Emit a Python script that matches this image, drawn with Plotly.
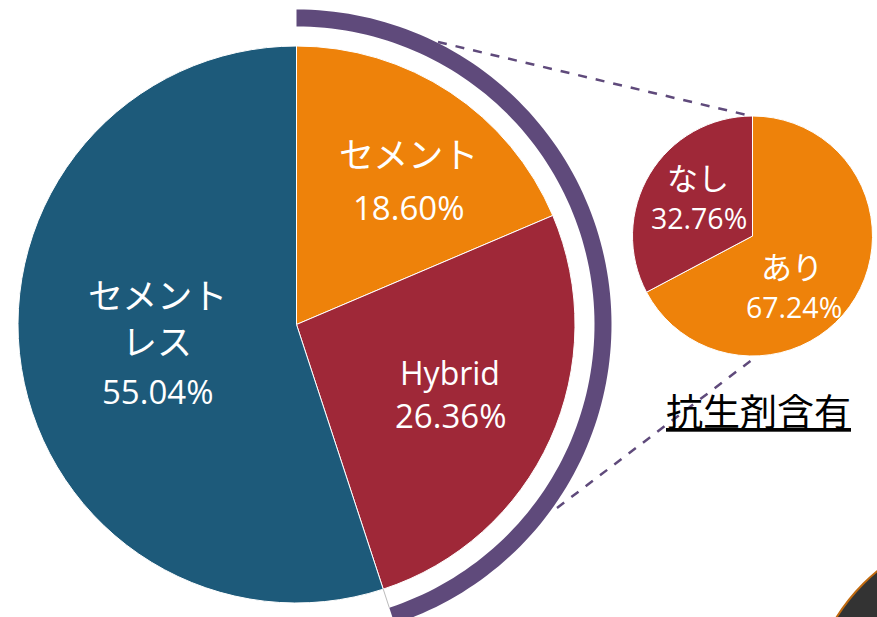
import numpy as np
import plotly.graph_objects as go

W, H = 877, 617

# main pie: cement type (%)
main_labels = ["セメント", "Hybrid", "セメントレス"]
main_lines = [["セメント"], ["Hybrid"], ["セメント", "レス"]]
main_values = [18.60, 26.36, 55.04]
main_colors = ["#EE820A", "#9F2838", "#1D5A7A"]

# sub pie: antibiotic-loaded cement (%)
sub_title = "抗生剤含有"
sub_labels = ["あり", "なし"]
sub_values = [67.24, 32.76]
sub_colors = ["#EE820A", "#9F2838"]

PURPLE = "#5F4A7B"
FONT = "Open Sans, Noto Sans CJK JP"


def px(x):
    return x / W


def py(y):
    return 1 - y / H


# pixel geometry of the two pies
C1, R1 = (296.5, 324.5), 278.5
C2, R2 = (752.5, 236.0), 120.0

fig = go.Figure()
fig.add_trace(go.Pie(
    labels=main_labels, values=main_values, sort=False, direction="clockwise",
    rotation=0, marker=dict(colors=main_colors, line=dict(color="white", width=1)),
    textinfo="none", hoverinfo="skip", showlegend=False,
    domain=dict(x=[px(C1[0] - R1), px(C1[0] + R1)], y=[py(C1[1] + R1), py(C1[1] - R1)]),
))
fig.add_trace(go.Pie(
    labels=sub_labels, values=sub_values, sort=False, direction="clockwise",
    rotation=0, marker=dict(colors=sub_colors, line=dict(color="white", width=1)),
    textinfo="none", hoverinfo="skip", showlegend=False,
    domain=dict(x=[px(C2[0] - R2), px(C2[0] + R2)], y=[py(C2[1] + R2), py(C2[1] - R2)]),
))

# purple bracket arc around the cement + hybrid slices
end_deg = 360 * (main_values[0] + main_values[1]) / sum(main_values)
t = np.radians(np.linspace(0, end_deg, 120))
r_in, r_out = 298, 315
pts = [(C1[0] + r_out * np.sin(a), C1[1] - r_out * np.cos(a)) for a in t]
pts += [(C1[0] + r_in * np.sin(a), C1[1] - r_in * np.cos(a)) for a in t[::-1]]
path = "M " + " L ".join(f"{px(x):.5f},{py(y):.5f}" for x, y in pts) + " Z"
shapes = [dict(type="path", path=path, xref="paper", yref="paper",
               fillcolor=PURPLE, line=dict(width=0))]

# thin separator from the pie edge to the arc
a = np.radians(end_deg)
shapes.append(dict(type="line", xref="paper", yref="paper",
                   x0=px(C1[0] + R1 * np.sin(a)), y0=py(C1[1] - R1 * np.cos(a)),
                   x1=px(C1[0] + r_in * np.sin(a)), y1=py(C1[1] - r_in * np.cos(a)),
                   line=dict(color="#BBBBBB", width=1)))

# dashed connectors to the small pie
for (x0, y0), (x1, y1) in [((438, 42), (751, 116)), ((557, 508), (757, 356))]:
    shapes.append(dict(type="line", xref="paper", yref="paper",
                       x0=px(x0), y0=py(y0), x1=px(x1), y1=py(y1),
                       line=dict(color=PURPLE, width=2.5, dash="dash")))

# dark corner decoration
shapes.append(dict(type="circle", xref="paper", yref="paper",
                   x0=px(807), x1=px(1193), y0=py(913), y1=py(527),
                   fillcolor="#333333", line=dict(color="#C06A10", width=2)))

annotations = []


def label(text, x, y, size):
    annotations.append(dict(text=text, x=px(x), y=py(y), xref="paper", yref="paper",
                            showarrow=False, xanchor="center", yanchor="middle",
                            font=dict(family=FONT, size=size, color="white")))


# main pie labels
main_pos = [[(408, 155), (408, 207)], [(450, 372), (450, 415)],
            [(157, 295), (157, 341), (157, 391)]]
for lines, v, pos in zip(main_lines, main_values, main_pos):
    for txt, (x, y) in zip(lines, pos):
        label(txt, x, y, 32 if txt.isascii() else 35)
    label(f"{v:.2f}%", pos[-1][0], pos[-1][1], 33)

# sub pie labels
sub_pos = [[(792, 267), (794, 307)], [(698, 178), (699, 218)]]
for lab, v, pos in zip(sub_labels, sub_values, sub_pos):
    label(lab, pos[0][0], pos[0][1], 31)
    label(f"{v:.2f}%", pos[1][0], pos[1][1], 28.5)

annotations.append(dict(text=f"<u>{sub_title}</u>", x=px(758), y=py(410),
                        xref="paper", yref="paper", showarrow=False,
                        xanchor="center", yanchor="middle",
                        font=dict(family="Noto Sans CJK JP", size=37, color="black")))

fig.update_layout(
    width=W, height=H, margin=dict(l=0, r=0, t=0, b=0),
    paper_bgcolor="white", plot_bgcolor="white",
    shapes=shapes, annotations=annotations,
)
# drop the default page margin so the figure sits flush in the window
fig.write_html("out.html", config={"displayModeBar": False},
               post_script="document.body.style.margin='0';")
